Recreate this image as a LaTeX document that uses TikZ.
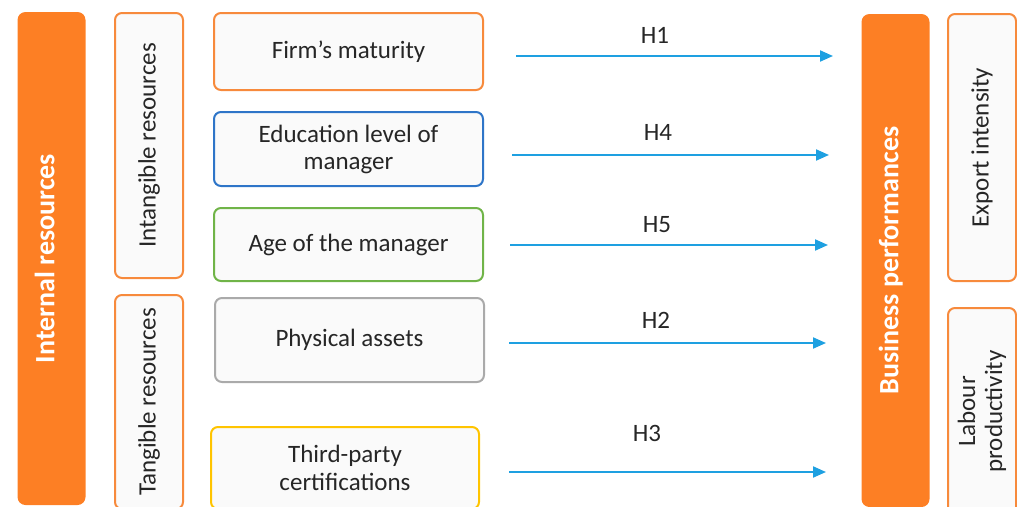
\documentclass[tikz,border=0pt]{standalone}
\usepackage{fontspec}
\setmainfont{Carlito}
\usepackage{xcolor}
\usetikzlibrary{arrows.meta}

\definecolor{barorange}{RGB}{253,127,36}
\definecolor{lineorange}{RGB}{247,138,60}
\definecolor{lineblue}{RGB}{46,117,200}
\definecolor{linegreen}{RGB}{112,180,72}
\definecolor{linegray}{RGB}{170,170,170}
\definecolor{lineyellow}{RGB}{255,196,0}
\definecolor{arrowblue}{RGB}{30,160,225}
\definecolor{boxfill}{RGB}{250,250,250}

\begin{document}
\begin{tikzpicture}[
    x=1pt, y=-1pt,
    font=\fontsize{25}{27}\selectfont,
    bar/.style={rectangle, rounded corners=8pt, fill=barorange, text=white, rotate=90,
        minimum height=68, inner sep=0pt, text depth=14pt, font=\fontsize{28}{32}\selectfont\bfseries},
    group/.style={rectangle, rounded corners=7pt, draw=lineorange, line width=2pt, fill=boxfill,
        rotate=90, minimum height=68, inner sep=0pt, align=center, text=black!85},
    factor/.style={rectangle, rounded corners=7pt, line width=2pt, fill=boxfill, anchor=north west,
        minimum width=269, inner sep=0pt, align=center, text=black!85},
    hyp/.style={-{Triangle[length=13pt,width=11pt]}, arrowblue, line width=2pt}
]
    \useasboundingbox (0,0) rectangle (1017,506);
    \clip (0,0) rectangle (1017,506);

    % left side: resources
    \node[bar, minimum width=493] (internal) at (51.5,258.5) {Internal resources};
    \node[group, minimum width=265] (intangible) at (149,145.5) {Intangible resources};
    \node[group, minimum width=214] (tangible) at (149,402) {Tangible resources};

    \node[factor, draw=lineorange, minimum height=77] (maturity) at (213,12) {Firm's maturity};
    \node[factor, draw=lineblue, minimum height=74] (education) at (213,111) {Education level of\\manager};
    \node[factor, draw=linegreen, minimum height=73] (age) at (213,207) {Age of the manager};
    \node[factor, draw=linegray, minimum height=84] (physical) at (214,297) {Physical assets};
    \node[factor, draw=lineyellow, minimum width=268, minimum height=82, font=\fontsize{25}{28}\selectfont] (certif) at (210,426) {Third-party\\certifications};

    % right side: performances
    \node[bar, minimum width=493] (business) at (895.5,260.5) {Business performances};
    \node[group, minimum width=267] (export) at (982,147.5) {Export intensity};
    \node[group, minimum width=207] (labour) at (982,411.5) {Labour\\productivity};

    % hypotheses
    \foreach \n/\ys/\xs/\xe/\lx/\ly in {1/56/516/833/655/35, 4/155/512/829/658/132,
        5/245/510/828/657/225, 2/343/509/826/656/320, 3/472/509/826/647/433} {
        \coordinate (h\n s) at (\xs,\ys);
        \coordinate (h\n e) at (\xe,\ys);
        \draw[hyp] (h\n s) -- (h\n e);
        \node[text=black!85] (lab\n) at (\lx,\ly) {H\n};
    }
\end{tikzpicture}
\end{document}
